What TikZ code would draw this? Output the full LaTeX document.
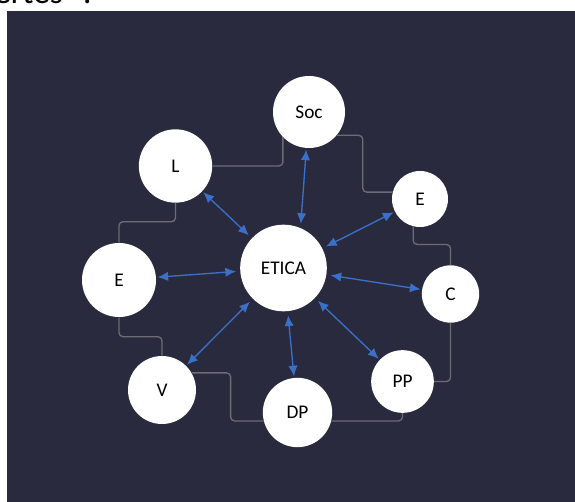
\documentclass[tikz,border=0pt]{standalone}
\usepackage{fontspec}
\setmainfont{Carlito}
\usetikzlibrary{arrows.meta, positioning}

\definecolor{bgnavy}{RGB}{41,42,62}
\definecolor{arrowblue}{RGB}{58,112,200}
\definecolor{linkgrey}{RGB}{108,108,116}

\begin{document}
\begin{tikzpicture}[x=0.75pt, y=-0.75pt,
  bubble/.style={circle, fill=white, inner sep=0pt, font=\fontsize{14.5}{16}\selectfont},
  link/.style={draw=linkgrey, line width=1pt, rounded corners=3pt},
  dbl/.style={draw=arrowblue, line width=1pt,
    {Latex[length=8pt,width=7pt]}-{Latex[length=8pt,width=7pt]},
    shorten <=3pt, shorten >=1pt}] % whole page in pixel units

  \useasboundingbox (0,0) rectangle (575,502);
  \fill[bgnavy] (7,11) rectangle (575,502);
  \node[anchor=base west, font=\fontsize{25}{30}\selectfont, inner sep=0pt] (title) at (-6,4) {ertes\hspace{0.6em}:};

  % centre and the ring round it
  \node[bubble, minimum size=65pt] (etica) at (283.5,268) {ETICA};
  \node[bubble, minimum size=54pt] (soc) at (309,112) {Soc};
  \node[bubble, minimum size=55pt] (l) at (175.5,166) {L};
  \node[bubble, minimum size=42pt] (er) at (420,199) {E};
  \node[bubble, minimum size=55.5pt] (el) at (119,280) {E};
  \node[bubble, minimum size=43pt] (c) at (450.5,294) {C};
  \node[bubble, minimum size=51pt] (v) at (162,390) {V};
  \node[bubble, minimum size=47pt] (pp) at (402.5,381.5) {PP};
  \node[bubble, minimum size=52pt] (dp) at (297.5,412.5) {DP};

  % grey ring
  \draw[link] (l.east) -| (soc.224);
  \draw[link] (soc.320) -- ++(26,0) |- (er.166);
  \draw[link] (er.256) -- ++(0,18) -| (c.north);
  \draw[link] (c.south) |- (pp.east);
  \draw[link] (pp.south) |- (dp.346);
  \draw[link] (dp.194) -- ++(-33,0) |- (v.30);
  \draw[link] (v.north) -- ++(0,-19) -| (el.south);
  \draw[link] (el.north) -- ++(0,-21) -| (l.south);

  % blue arrows out of the centre
  \draw[dbl] (etica.67) -- (soc);
  \foreach \n in {l, er, el, c, v, pp, dp}
    \draw[dbl] (etica) -- (\n);
\end{tikzpicture}
\end{document}
